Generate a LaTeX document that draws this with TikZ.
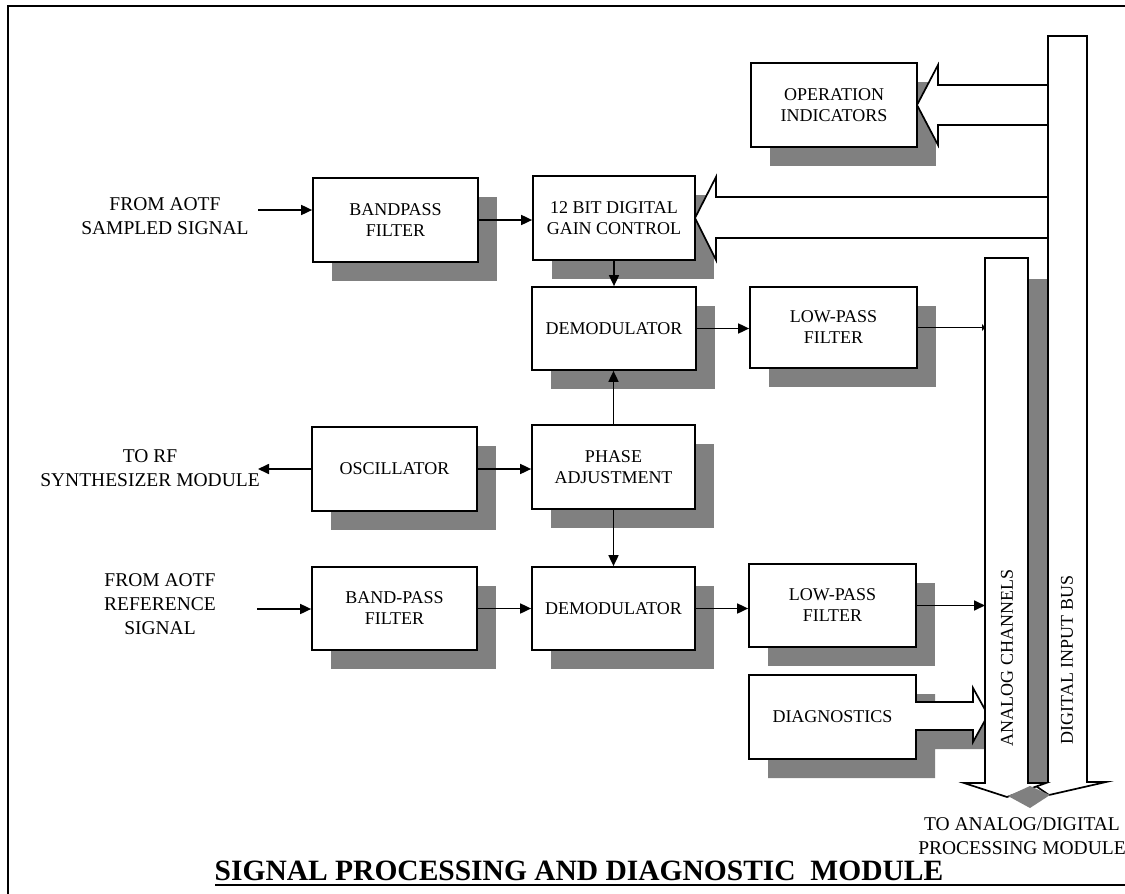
\documentclass[tikz,border=0pt]{standalone}
\usepackage{fontspec}
\setmainfont{Liberation Serif}
\usetikzlibrary{arrows.meta,shadows,calc}
\definecolor{shadowgray}{gray}{0.5}
\tikzset{
  blk/.style={draw, fill=white, line width=1.7pt, inner sep=0pt, align=center,
    font=\fontsize{18}{21}\selectfont,
    drop shadow={shadow xshift=19pt, shadow yshift=-19pt, fill=shadowgray, opacity=1}},
  sz/.style 2 args={minimum width=#1, minimum height=#2},
  lbl/.style={align=center, inner sep=0pt, font=\fontsize{19.5}{24}\selectfont},
  conn/.style={line width=1.7pt, -{Triangle[length=11pt,width=10pt]}},
  smallconn/.style={line width=1.7pt, -{Triangle[length=3pt,width=7pt]}},
  hollow/.style={draw, fill=white, line width=1.7pt, line join=miter},
  shade/.style={fill=shadowgray, draw=none},
  buslbl/.style={rotate=90, inner sep=0pt, font=\fontsize{18}{21}\selectfont}
}
\begin{document}
\begin{tikzpicture}[x=1pt,y=-1pt]
\useasboundingbox (0,0) rectangle (1125,894);

% frame
\draw[line width=1.5pt] (8,894) -- (8,6) -- (1125,6);

% blocks
\node[blk, sz={165pt}{84pt}] (bpf1)   at (395.5,220) {BANDPASS\\FILTER};
\node[blk, sz={162pt}{84pt}] (gain)   at (614,218)   {12 BIT DIGITAL\\GAIN CONTROL};
\node[blk, sz={166pt}{84pt}] (opind)  at (834,105)   {OPERATION\\INDICATORS};
\node[blk, sz={164pt}{83pt}] (demod1) at (614,328.5) {DEMODULATOR};
\node[blk, sz={167pt}{81pt}] (lpf1)   at (833.5,327.5) {LOW-PASS\\FILTER};
\node[blk, sz={165pt}{84pt}] (osc)    at (394.5,469) {OSCILLATOR};
\node[blk, sz={163pt}{84pt}] (phase)  at (613.5,467) {PHASE\\ADJUSTMENT};
\node[blk, sz={165pt}{83pt}] (bpf2)   at (394.5,608.5) {BAND-PASS\\FILTER};
\node[blk, sz={163pt}{83pt}] (demod2) at (613.5,608.5) {DEMODULATOR};
\node[blk, sz={167pt}{83pt}] (lpf2)   at (832.5,605.5) {LOW-PASS\\FILTER};

% diagnostics block with its outgoing hollow arrow
\fill[shade, shift={(19,19)}] (749,675) -- (916,675) -- (916,702) -- (973,702) -- (973,688)
  -- (988,715) -- (973,742) -- (973,730) -- (916,730) -- (916,759) -- (749,759) -- cycle;
\draw[hollow] (749,675) -- (916,675) -- (916,702) -- (973,702) -- (973,688)
  -- (988,715) -- (973,742) -- (973,730) -- (916,730) -- (916,759) -- (749,759) -- cycle;
\node[inner sep=0pt, sz={167pt}{84pt}, font=\fontsize{18}{21}\selectfont] (diag) at (832.5,717) {DIAGNOSTICS};

% digital input bus
\draw[hollow] (1048,36) -- (1087,36) -- (1087,782) -- (1106,782) -- (1049,795)
  -- (1030,782) -- (1048,782) -- cycle;
% analog channels bus with shadow
\fill[shade] (1028,279) rectangle (1047,783);
\draw[hollow] (985,258) -- (1028,258) -- (1028,783) -- (1046,783) -- (1007,797)
  -- (964,783) -- (985,783) -- cycle;
\fill[shade] (1008,796) -- (1030,786) -- (1050,795) -- (1030,808) -- cycle;
\coordinate (abusedge) at (985,500);
\node[buslbl] (abus) at (1007,658) {ANALOG CHANNELS};
\node[buslbl] (dbus) at (1067,660) {DIGITAL INPUT BUS};

% hollow arrows from the digital bus
\draw[hollow] (917,105) -- (938,65) -- (938,85) -- (1048,85) -- (1048,125)
  -- (938,125) -- (938,145) -- cycle;
\draw[hollow] (695,218) -- (716,177) -- (716,197) -- (1048,197) -- (1048,238)
  -- (716,238) -- (716,260) -- cycle;

% outside labels
\node[lbl] (src1) at (165,216) {FROM AOTF\\SAMPLED SIGNAL};
\node[lbl] (rf)   at (150,468) {TO RF\\SYNTHESIZER MODULE};
\node[lbl] (src2) at (160,604) {FROM AOTF\\REFERENCE\\SIGNAL};
\node[lbl] (out)  at (1022,836) {TO ANALOG/DIGITAL\\PROCESSING MODULE};
\coordinate (in1) at (258,210);
\coordinate (in2) at (257,609);
\coordinate (rfend) at (258,469);

% connectors
\draw[conn] (in1) -- (in1 -| bpf1.west);
\draw[conn] (bpf1.east) -- (bpf1.east -| gain.west);
\draw[conn] (gain.south) -- (gain.south |- demod1.north);
\draw[conn] (phase.north) -- (phase.north |- demod1.south);
\draw[conn] (phase.south) -- (phase.south |- demod2.north);
\draw[conn] (osc.east) -- (osc.east -| phase.west);
\draw[conn] (osc.west) -- (rfend);
\draw[conn] (in2) -- (in2 -| bpf2.west);
\draw[conn] (bpf2.east) -- (bpf2.east -| demod2.west);
\draw[conn] (demod1.east) -- (demod1.east -| lpf1.west);
\draw[conn] (demod2.east) -- (demod2.east -| lpf2.west);
\draw[conn] (lpf2.east) -- (lpf2.east -| abusedge);
\draw[smallconn] (lpf1.east) -- (lpf1.east -| abusedge);

% title
\node[anchor=base, inner sep=0pt, font=\bfseries\fontsize{29.5}{34}\selectfont] (title) at (579,880)
  {SIGNAL PROCESSING AND DIAGNOSTIC\ \ MODULE};
\draw[line width=1.7pt] (215,885) -- (1125,885);
\end{tikzpicture}
\end{document}
